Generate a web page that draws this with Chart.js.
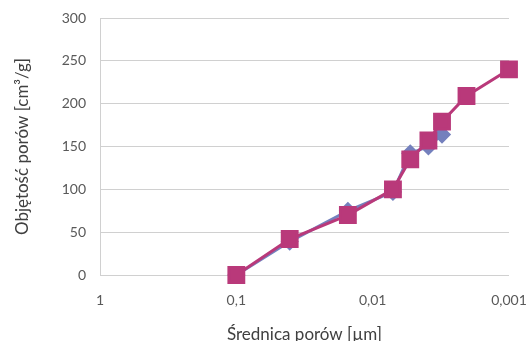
<!DOCTYPE html>
<html>
<head>
<meta charset="utf-8">
<script src="https://cdn.jsdelivr.net/npm/chart.js@4/dist/chart.umd.min.js"></script>
<style>
  html, body { margin: 0; padding: 0; background: #fff; }
  #wrap { width: 528px; height: 341px; }
</style>
</head>
<body>
<div id="wrap"><canvas id="myChart" width="528" height="341"></canvas></div>
<script>
'use strict';

// pore diameter [um] and pore volume [cm3/g]
let diameterA = [0.1, 0.0406, 0.0152, 0.0071, 0.0053, 0.0039, 0.0031];
let volumeA = [0, 39, 75, 97, 142, 150, 164];

let diameterB = [0.1, 0.0406, 0.0152, 0.0071, 0.0053, 0.0039, 0.0031, 0.00205, 0.001];
let volumeB = [0, 42, 70, 100, 135, 157, 179, 209, 240];

let xTicks = [1, 0.1, 0.01, 0.001];
let xTickLabels = ['1', '0,1', '0,01', '0,001'];

let fontName = "Lato, 'Open Sans', sans-serif";

function toPoints(xs, ys) {
    let pts = [];
    for (let i = 0; i < xs.length; i++) {
        pts.push({ x: xs[i], y: ys[i] });
    }
    return pts;
}

let ctx = document.getElementById('myChart').getContext('2d');
let chart = new Chart(ctx, {
    type: 'scatter',
    data: {
        datasets: [{
            label: 'B',
            data: toPoints(diameterB, volumeB),
            showLine: true,
            clip: false,
            borderColor: '#b9397a',
            backgroundColor: '#b9397a',
            borderWidth: 3,
            pointStyle: 'rect',
            pointRadius: 10.5,
            pointHoverRadius: 10.5,
            order: 0
        },
        {
            label: 'A',
            data: toPoints(diameterA, volumeA),
            showLine: true,
            clip: false,
            borderColor: '#7480bd',
            backgroundColor: '#7480bd',
            borderWidth: 3,
            pointStyle: 'rectRot',
            pointRadius: 7,
            pointHoverRadius: 7,
            order: 1
        }]
    },
    options: {
        responsive: false,
        animation: false,
        layout: { padding: { top: 18, right: 19, bottom: 0, left: 0 } },
        plugins: { legend: { display: false }, tooltip: { enabled: false } },
        scales: {
            x: {
                type: 'logarithmic',
                reverse: true,
                min: 0.001,
                max: 1,
                afterBuildTicks: function (scale) {
                    scale.ticks = xTicks.map(function (v) { return { value: v }; });
                },
                afterFit: function (scale) {
                    scale.height = 66;
                    scale.paddingLeft = 0;
                    scale.paddingRight = 0;
                },
                grid: { display: false, drawTicks: false },
                border: { display: false },
                ticks: {
                    autoSkip: false,
                    maxRotation: 0,
                    padding: 17,
                    color: '#595959',
                    font: { family: fontName, size: 14 },
                    callback: function (value) {
                        let i = xTicks.indexOf(value);
                        return i >= 0 ? xTickLabels[i] : '';
                    }
                },
                title: {
                    display: true,
                    text: 'Średnica porów [µm]',
                    color: '#404040',
                    font: { family: fontName, size: 17 },
                    padding: { top: 0, bottom: -4 }
                }
            },
            y: {
                min: 0,
                max: 300,
                afterFit: function (scale) {
                    scale.width = 100;
                    scale.paddingTop = 0;
                    scale.paddingBottom = 0;
                },
                grid: { color: '#d0d0d0', drawTicks: false, lineWidth: 1 },
                border: { display: true, color: '#d0d0d0' },
                ticks: {
                    stepSize: 50,
                    padding: 14,
                    color: '#595959',
                    font: { family: fontName, size: 14 }
                },
                title: {
                    display: true,
                    text: 'Objętość porów [cm³/g]',
                    color: '#404040',
                    font: { family: fontName, size: 17 },
                    padding: { top: 12, bottom: 0 }
                }
            }
        }
    }
});
</script>
</body>
</html>
